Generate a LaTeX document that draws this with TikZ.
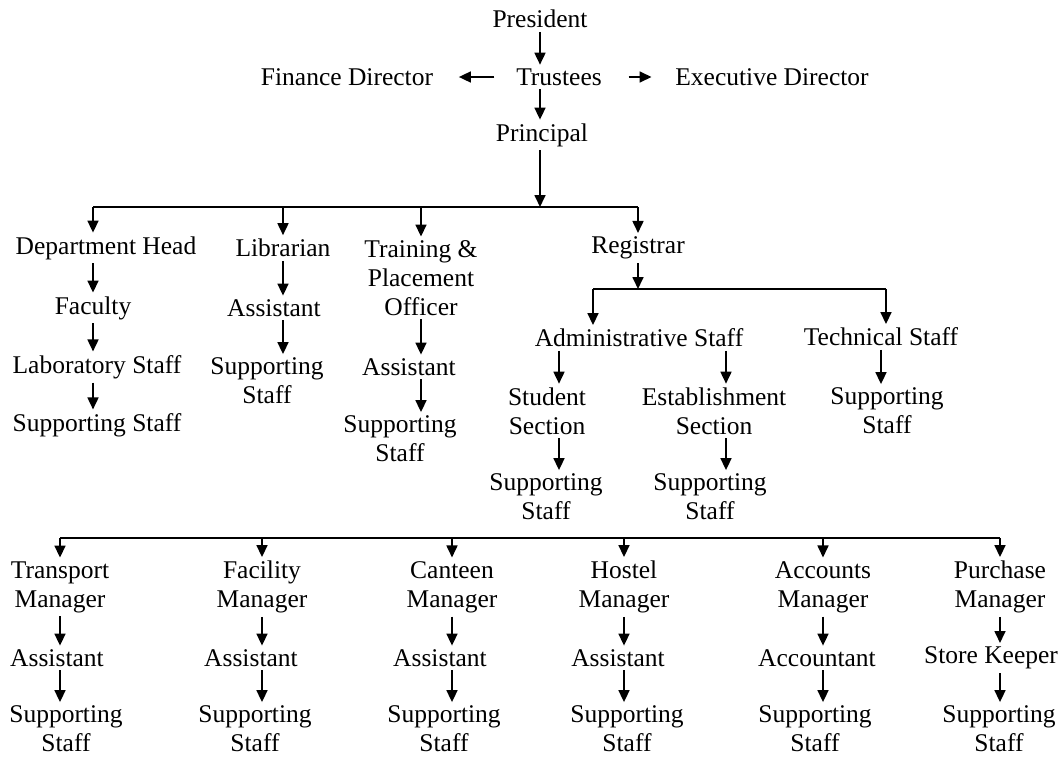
\documentclass[tikz,border=0pt]{standalone}
\usepackage{fontspec}
\setmainfont{Liberation Serif}
\usetikzlibrary{arrows.meta,calc}

\begin{document}
\begin{tikzpicture}[x=1pt,y=-1pt,line width=1.7pt,
    every node/.style={inner sep=3pt,align=center,font=\fontsize{25.5}{29}\selectfont},
    arr/.style={-{Triangle[length=12pt,width=11pt]}}
    ]
    \useasboundingbox (0,0) rectangle (1061,756);

    % the top of the chart
    \node (pres) at (540,19) {President};
    \node (trus) at (559,77) {Trustees};
    \node (fin) at (347,77) {Finance Director};
    \node (exe) at (772,77) {Executive Director};
    \node (prin) at (542,135) {Principal};

    % the heads under the principal
    \node (dh) at (106,248) {Department Head};
    \node (lib) at (283,248) {Librarian};
    \node (tpo) at (421,278) {Training \&\\Placement\\Officer};
    \node (reg) at (638,248) {Registrar};

    \node (fac) at (93,308) {Faculty};
    \node (lab) at (97,367) {Laboratory Staff};
    \node (dss) at (97,425) {Supporting Staff};
    \node (las) at (274,308) {Assistant};
    \node (lss) at (267,381) {Supporting\\Staff};
    \node (tas) at (409,367) {Assistant};
    \node (tss) at (400,439) {Supporting\\Staff};

    % the staff of the registrar
    \node (adm) at (639,338) {Administrative Staff};
    \node (tec) at (881,337) {Technical Staff};
    \node (stu) at (547,411) {Student\\Section};
    \node (est) at (714,411) {Establishment\\Section};
    \node (tsp) at (887,411) {Supporting\\Staff};
    \node (ssp) at (546,497) {Supporting\\Staff};
    \node (esp) at (710,497) {Supporting\\Staff};

    % the managers
    \node (tm) at (60,587) {Transport\\Manager};
    \node (ta) at (57,658) {Assistant};
    \node (ts) at (66,729) {Supporting\\Staff};
    \node (fm) at (262,587) {Facility\\Manager};
    \node (fa) at (251,658) {Assistant};
    \node (fs) at (255,729) {Supporting\\Staff};
    \node (cm) at (452,587) {Canteen\\Manager};
    \node (ca) at (440,658) {Assistant};
    \node (cs) at (444,729) {Supporting\\Staff};
    \node (hm) at (624,587) {Hostel\\Manager};
    \node (ha) at (618,658) {Assistant};
    \node (hs) at (627,729) {Supporting\\Staff};
    \node (am) at (823,587) {Accounts\\Manager};
    \node (aa) at (817,658) {Accountant};
    \node (acs) at (815,729) {Supporting\\Staff};
    \node (pm) at (1000,587) {Purchase\\Manager};
    \node (pa) at (991,658) {Store Keeper};
    \node (ps) at (999,729) {Supporting\\Staff};

    % the edges at the top
    \draw[arr] (pres.south) -- (pres.south |- trus.north);
    \draw[arr,shorten <=18pt,shorten >=22pt] (trus.west) -- (fin.east);
    \draw[arr,shorten <=23pt,shorten >=20pt] (trus.east) -- (exe.west);
    \draw[arr] (trus.south -| pres.south) -- (pres.south |- prin.north);

    % the bus under the principal
    \coordinate (b1) at (540,207);
    \draw (fac |- b1) -- (reg |- b1);
    \draw[arr] (prin.south -| pres) -- (pres |- b1);
    \foreach \a/\b in {fac/dh,lib/lib,tpo/tpo,reg/reg}
        \draw[arr] (\a |- b1) -- (\a |- \b.north);

    % the columns on the left
    \foreach \a/\b/\c in {dh/fac/fac,fac/lab/fac,lab/dss/fac,lib/las/lib,las/lss/lib,tpo/tas/tpo,tas/tss/tpo}
        \draw[arr] (\a.south -| \c) -- (\b.north -| \c);

    % the registrar
    \coordinate (b2l) at (593,289);
    \coordinate (b2r) at (886,289);
    \draw (b2l) -- (b2r);
    \draw[arr] (reg.south) -- (reg.south |- b2l);
    \draw[arr] (b2l) -- (b2l |- adm.north);
    \draw[arr] (b2r) -- (b2r |- tec.north);
    \draw[arr] (tec.south) -- (tec.south |- tsp.north);
    \foreach \a/\b/\c in {adm/stu/stu,adm/est/est,stu/ssp/stu,est/esp/est}
        \draw[arr] ($(\a.south -| \c)+(12,0)$) -- ($(\b.north -| \c)+(12,0)$);

    % the managers' bus
    \coordinate (b3) at (0,538);
    \draw (b3 -| tm) -- (b3 -| pm);
    \foreach \m/\a/\s in {tm/ta/ts,fm/fa/fs,cm/ca/cs,hm/ha/hs,am/aa/acs,pm/pa/ps} {
        \draw[arr] (b3 -| \m) -- (\m.north);
        \draw[arr] (\m.south) -- (\m.south |- \a.north);
        \draw[arr] (\a.south -| \m) -- (\m |- \s.north);
    }

\end{tikzpicture}
\end{document}
